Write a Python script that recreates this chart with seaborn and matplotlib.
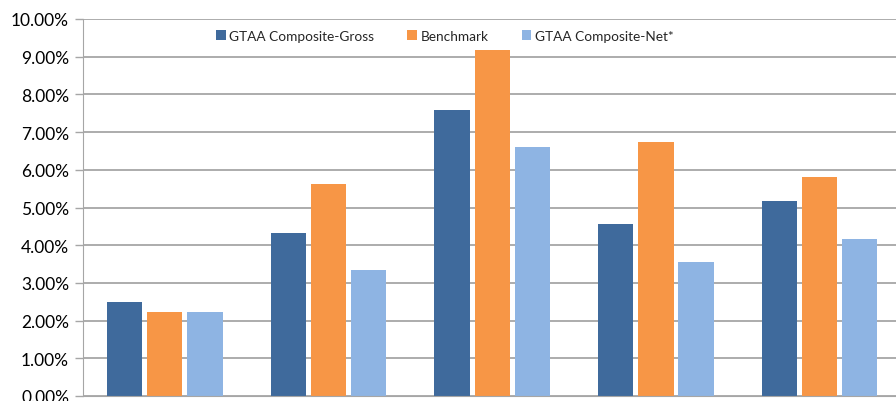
import matplotlib
matplotlib.use("Agg")
import matplotlib.pyplot as plt
import seaborn as sns
import pandas as pd
from matplotlib.ticker import FuncFormatter, MultipleLocator

periods = ["1", "2", "3", "4", "5"]
gross = [2.49, 4.33, 7.59, 4.57, 5.16]
benchmark = [2.23, 5.62, 9.18, 6.75, 5.82]
net = [2.23, 3.35, 6.61, 3.55, 4.17]
series = ["GTAA Composite-Gross", "Benchmark", "GTAA Composite-Net*"]
colors = ["#3F6A9C", "#F79646", "#8EB4E3"]

rows = []
for s, vals in zip(series, [gross, benchmark, net]):
    for p, v in zip(periods, vals):
        rows.append({"period": p, "series": s, "value": v})
df = pd.DataFrame(rows)

sns.set_style("white")
plt.rcParams["font.family"] = ["Lato", "DejaVu Sans"]

fig = plt.figure(figsize=(8.96, 4.02), dpi=100)
ax = fig.add_axes([83 / 896, 5 / 402, 818.5 / 896, 377 / 402])

sns.barplot(data=df, x="period", y="value", hue="series", palette=colors,
            ax=ax, width=0.735, gap=0.12, linewidth=0,
            legend=True, saturation=1)

ax.set_ylim(0, 10)
ax.set_xlim(-0.5, 4.5)
ax.yaxis.set_major_locator(MultipleLocator(1))
ax.yaxis.set_major_formatter(FuncFormatter(lambda v, p: f"{v:.2f}%"))
ax.grid(axis="y", color="#A6A6A6", linewidth=1.3)
ax.set_axisbelow(True)
ax.set_xlabel("")
ax.set_ylabel("")
ax.set_xticklabels([])
ax.tick_params(axis="x", length=0)
ax.tick_params(axis="y", length=6, width=1, color="#A6A6A6", labelsize=12.5,
               labelcolor="#000000", pad=4, left=True)
for side in ["top", "right"]:
    ax.spines[side].set_visible(False)
ax.spines["left"].set_color("#A6A6A6")
ax.spines["bottom"].set_color("#A6A6A6")

handles, labels = ax.get_legend_handles_labels()
ax.legend(handles, labels, loc="center", bbox_to_anchor=(0.442, 0.955), ncol=3,
          frameon=False, fontsize=9.8, handlelength=0.7, handleheight=0.7,
          handletextpad=0.25, columnspacing=2.45)

fig.savefig("out.png", dpi=100)
